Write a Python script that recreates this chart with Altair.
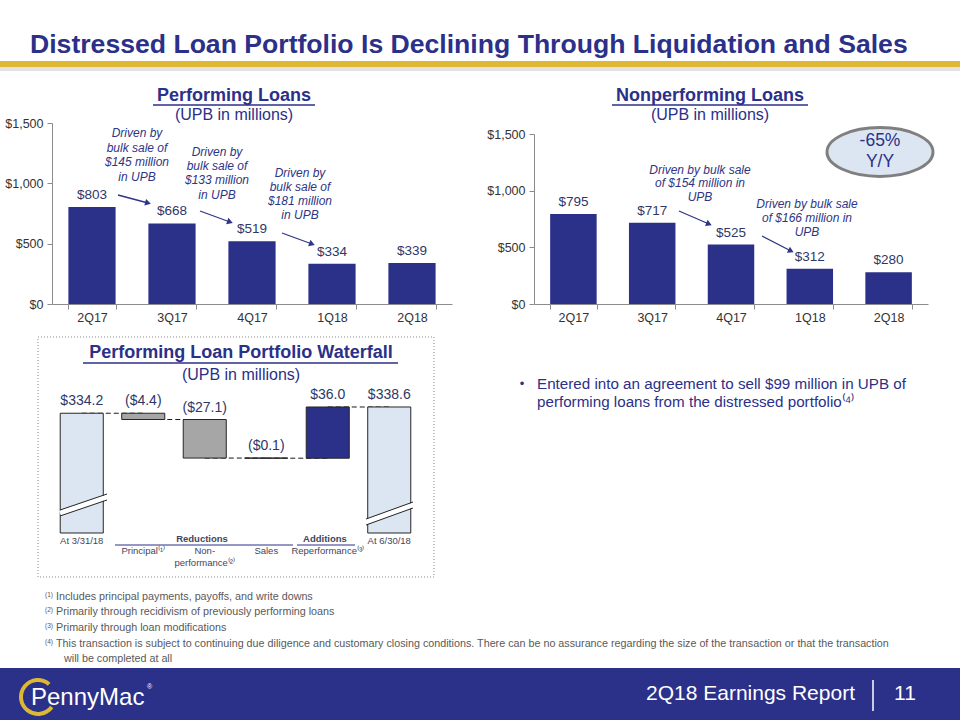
import math
import altair as alt
import pandas as pd

# ------------------------------------------------------------------ data
quarters = ["2Q17", "3Q17", "4Q17", "1Q18", "2Q18"]
performing_upb = [803, 668, 519, 334, 339]
nonperforming_upb = [795, 717, 525, 312, 280]
upb_axis_ticks = [0, 500, 1000, 1500]

wf_categories = ["At 3/31/18", "Principal", "Non-performance", "Sales", "Reperformance", "At 6/30/18"]
wf_values = [334.2, -4.4, -27.1, -0.1, 36.0, 338.6]
wf_kinds = ["total", "reduction", "reduction", "reduction", "addition", "total"]
wf_value_labels = ["$334.2", "($4.4)", "($27.1)", "($0.1)", "$36.0", "$338.6"]
wf_tick_line1 = ["At 3/31/18", "Principal⁽¹⁾", "Non-", "Sales", "Reperformance⁽³⁾", "At 6/30/18"]
wf_tick_line2 = ["", "", "performance⁽²⁾", "", "", ""]

# ------------------------------------------------------------------ styles
W, H = 960, 720
NAVY = "#2B3089"
GOLD = "#DDB834"
LIGHT = "#DCE6F2"
GRAYBAR = "#A6A6A6"
AXIS = "#8C8C8C"
LABEL = "#2F3766"
NOTE = "#595959"
SANS = "Liberation Sans, Arial, Helvetica, sans-serif"
WF_FLOOR = 250  # broken-axis floor of the waterfall


def px_text(rows, **kw):
    df = pd.DataFrame(rows, columns=["x", "y", "t"])
    return alt.Chart(df).mark_text(**kw).encode(
        x=alt.X("x:Q", scale=None, axis=None),
        y=alt.Y("y:Q", scale=None, axis=None),
        text="t:N",
    )


def px_rect(rows, **kw):
    df = pd.DataFrame(rows, columns=["x", "x2", "y", "y2"])
    return alt.Chart(df).mark_rect(**kw).encode(
        x=alt.X("x:Q", scale=None, axis=None), x2="x2:Q",
        y=alt.Y("y:Q", scale=None, axis=None), y2="y2:Q",
    )


def px_rule(rows, **kw):
    df = pd.DataFrame(rows, columns=["x", "y", "x2", "y2"])
    return alt.Chart(df).mark_rule(**kw).encode(
        x=alt.X("x:Q", scale=None, axis=None), x2="x2:Q",
        y=alt.Y("y:Q", scale=None, axis=None), y2="y2:Q",
    )


# ------------------------------------------------------------------ bar panels
def bar_panel(values, x_range, y_range):
    df = pd.DataFrame({"quarter": quarters, "upb": values,
                       "label": ["$" + str(v) for v in values]})
    xs = alt.Scale(domain=quarters, range=x_range, paddingInner=0.41, paddingOuter=0.205)
    ys = alt.Scale(domain=[0, 1500], range=y_range, nice=False, zero=True)
    x = alt.X("quarter:N", sort=quarters, scale=xs, title=None,
              axis=alt.Axis(orient="bottom", offset=y_range[0] - H, tickBand="extent",
                            tickSize=5, labelPadding=2, labelFontSize=12.5, labelFont=SANS,
                            labelColor="#333333", domainColor=AXIS, tickColor=AXIS,
                            labelAngle=0, grid=False))
    y = alt.Y("upb:Q", scale=ys, title=None,
              axis=alt.Axis(orient="left", offset=-x_range[0], values=upb_axis_ticks,
                            labelExpr="'$' + format(datum.value, ',')", grid=False,
                            tickSize=5, labelPadding=4, labelFontSize=12.5, labelFont=SANS,
                            labelColor="#333333", domainColor=AXIS, tickColor=AXIS))
    base = alt.Chart(df).encode(x=x, y=y)
    bars = base.mark_bar(color=NAVY)
    labels = base.mark_text(dy=-12, fontSize=13.5, font=SANS, color=LABEL).encode(text="label:N")
    return alt.layer(bars, labels)


perf = bar_panel(performing_upb, [52, 452], [304, 123])
npl = bar_panel(nonperforming_upb, [534, 928], [304, 134])

# ------------------------------------------------------------------ waterfall
rows = []
level = None
for cat, v, k, lab, t1, t2 in zip(wf_categories, wf_values, wf_kinds, wf_value_labels,
                                  wf_tick_line1, wf_tick_line2):
    if k == "total":
        start, end = WF_FLOOR, v
    else:
        start, end = level, level + v
    level = end
    rows.append(dict(cat=cat, start=start, end=end, kind=k, label=lab,
                     top=max(start, end), t1=t1, t2=t2))
wf_df = pd.DataFrame(rows)

conn = []
for i in range(len(rows) - 1):
    conn.append(dict(cid=i, cat=rows[i]["cat"], level=rows[i]["end"]))
    conn.append(dict(cid=i, cat=rows[i + 1]["cat"], level=rows[i]["end"]))
conn_df = pd.DataFrame(conn)

wf_xs = alt.Scale(domain=wf_categories, range=[51, 420], paddingInner=0.3, paddingOuter=0.15)
wf_ys = alt.Scale(domain=[WF_FLOOR, 340], range=[533, 405], nice=False, zero=False)
wf_x = alt.X("cat:N", sort=wf_categories, scale=wf_xs, title=None,
             axis=alt.Axis(orient="bottom", offset=533 - H, tickBand="extent", labels=False,
                           tickSize=5, domainColor=AXIS, tickColor=AXIS, grid=False))
wf_x_noaxis = alt.X("cat:N", sort=wf_categories, scale=wf_xs, title=None)
wf_y = alt.Y("start:Q", scale=wf_ys, title=None, axis=None)

wf_connectors = alt.Chart(conn_df).mark_line(color="#1A1A1A", strokeWidth=1, strokeDash=[5, 3]).encode(
    x=wf_x_noaxis, y=alt.Y("level:Q", scale=wf_ys, axis=None), detail="cid:N")
wf_bars = alt.Chart(wf_df).mark_bar(stroke="#262626", strokeWidth=1).encode(
    x=wf_x, y=wf_y, y2="end:Q",
    color=alt.Color("kind:N", scale=alt.Scale(domain=["total", "reduction", "addition"],
                                              range=[LIGHT, GRAYBAR, NAVY]), legend=None))
wf_labels = alt.Chart(wf_df).mark_text(dy=-12, fontSize=14, font=SANS, color=LABEL).encode(
    x=wf_x_noaxis, y=alt.Y("top:Q", scale=wf_ys, axis=None), text="label:N")
tick_style = dict(fontSize=9.5, font=SANS, color="#3F4560")
wf_ticks_total = alt.Chart(wf_df).transform_filter("datum.kind == 'total'").mark_text(**tick_style).encode(
    x=wf_x_noaxis, y=alt.value(541), text="t1:N")
wf_ticks_mid = alt.Chart(wf_df).transform_filter("datum.kind != 'total'").mark_text(**tick_style).encode(
    x=wf_x_noaxis, y=alt.value(551), text="t1:N")
wf_ticks_2 = alt.Chart(wf_df).transform_filter("datum.t2 != ''").mark_text(**tick_style).encode(
    x=wf_x_noaxis, y=alt.value(563), text="t2:N")
wf = alt.layer(wf_connectors, wf_bars, wf_labels, wf_ticks_total, wf_ticks_mid, wf_ticks_2)

# ------------------------------------------------------------------ decorations (slide layout)
back = [
    px_rect([(0, W, 66, 71)], color="#E2E2E2"),
    px_rect([(0, W, 61, 67)], color=GOLD),
    px_rect([(0, W, 668, H)], color=NAVY),
    px_rect([(38, 434, 337, 577)], fill="white", stroke="#8C8C8C", strokeWidth=1, strokeDash=[1, 2]),
]

title = px_text([(30, 45, "Distressed Loan Portfolio Is Declining Through Liquidation and Sales")],
                align="left", baseline="middle", font=SANS, fontSize=26.6, fontWeight="bold", color=NAVY)
sec_titles = px_text([(234, 96, "Performing Loans"), (710, 96, "Nonperforming Loans"),
                      (241, 353, "Performing Loan Portfolio Waterfall")],
                     align="center", baseline="middle", font=SANS, fontSize=18, fontWeight="bold", color=NAVY)
sec_sub = px_text([(234, 115, "(UPB in millions)"), (710, 115, "(UPB in millions)"),
                   (241, 375, "(UPB in millions)")],
                  align="center", baseline="middle", font=SANS, fontSize=16, color=NAVY)
underlines = px_rule([(153, 105, 315, 105), (612, 105, 808, 105), (83, 363, 398, 363)],
                     color=NAVY, strokeWidth=1.3)

notes_perf = [
    (137, 133, "Driven by"), (137, 148, "bulk sale of"), (137, 162, "$145 million"), (137, 177, "in UPB"),
    (217, 152, "Driven by"), (217, 166, "bulk sale of"), (217, 180, "$133 million"), (217, 195, "in UPB"),
    (300, 173, "Driven by"), (300, 187, "bulk sale of"), (300, 201, "$181 million"), (300, 215, "in UPB"),
    (700, 170, "Driven by bulk sale"), (700, 183, "of $154 million in"), (700, 197, "UPB"),
    (807, 204, "Driven by bulk sale"), (807, 218, "of $166 million in"), (807, 232, "UPB"),
]
notes = px_text(notes_perf, align="center", baseline="middle", font=SANS, fontSize=12,
                fontStyle="italic", color="#2E3585")

arrows = [(118, 195, 148, 203), (200, 211, 230, 222), (282, 233, 312, 244),
          (679, 211, 709, 224), (762, 236, 791, 251)]
arrow_lines = px_rule(arrows, color="#2E3585", strokeWidth=1.3)
heads_df = pd.DataFrame([dict(x=a[2], y=a[3], ang=math.degrees(math.atan2(a[3] - a[1], a[2] - a[0])))
                         for a in arrows])
arrow_heads = alt.Chart(heads_df).mark_point(shape="triangle-right", size=45, filled=True,
                                             color="#2E3585", opacity=1).encode(
    x=alt.X("x:Q", scale=None, axis=None), y=alt.Y("y:Q", scale=None, axis=None),
    angle=alt.Angle("ang:Q", scale=None))

oval = alt.Chart(pd.DataFrame([dict(x=880, y=152)])).mark_point(
    shape="M -1 0 A 1 0.46 0 1 1 1 0 A 1 0.46 0 1 1 -1 0 Z", size=106 * 106,
    filled=True, fill=LIGHT, stroke="#7F7F7F", strokeWidth=3, opacity=1).encode(
    x=alt.X("x:Q", scale=None, axis=None), y=alt.Y("y:Q", scale=None, axis=None))
oval_text = px_text([(880, 141, "-65%"), (880, 162, "Y/Y")], align="center", baseline="middle",
                    font=SANS, fontSize=17.5, color=NAVY)

breaks_white = px_rule([(60, 513, 107, 497), (366, 522, 413, 505)], color="white", strokeWidth=5)
breaks_dark = px_rule([(60, 510, 107, 494), (60, 516, 107, 500),
                       (366, 519, 413, 502), (366, 525, 413, 508)], color="#262626", strokeWidth=1)

group_heads = px_text([(202, 539, "Reductions"), (325, 539, "Additions")], align="center",
                      baseline="middle", font=SANS, fontSize=9.5, fontWeight="bold", color="#3F4560")
group_lines = px_rule([(115, 545, 293, 545), (297, 545, 355, 545)], color=NAVY, strokeWidth=1)

bullet = px_text([(522, 384, "•")], align="center", baseline="middle", font=SANS, fontSize=13, color=NAVY)
bullet_text = px_text([(537, 384, "Entered into an agreement to sell $99 million in UPB of"),
                       (537, 402, "performing loans from the distressed portfolio⁽⁴⁾")],
                      align="left", baseline="middle", font=SANS, fontSize=15.2, color=NAVY)

fn_marks = px_text([(45, 595, "(1)"), (45, 610, "(2)"), (45, 626, "(3)"), (45, 642, "(4)")],
                   align="left", baseline="middle", font=SANS, fontSize=6.5, color=NOTE)
fn_text = px_text([
    (56, 597, "Includes principal payments, payoffs, and write downs"),
    (56, 612, "Primarily through recidivism of previously performing loans"),
    (56, 628, "Primarily through loan modifications"),
    (56, 644, "This transaction is subject to continuing due diligence and customary closing conditions. "
              "There can be no assurance regarding the size of the transaction or that the transaction"),
    (64, 659, "will be completed at all"),
], align="left", baseline="middle", font=SANS, fontSize=10.75, color=NOTE)

footer_text = px_text([(855, 694, "2Q18 Earnings Report")], align="right", baseline="middle",
                      font=SANS, fontSize=21, color="white")
footer_num = px_text([(905, 694, "11")], align="center", baseline="middle", font=SANS, fontSize=21,
                     color="white")
footer_bar = px_rule([(873, 680, 873, 711)], color="white", strokeWidth=1.5)
logo_ring = alt.Chart(pd.DataFrame([dict(x=38, y=697)])).mark_arc(
    radius=19, radius2=15, theta=2.2, theta2=7.0, color=GOLD).encode(
    x=alt.X("x:Q", scale=None, axis=None), y=alt.Y("y:Q", scale=None, axis=None))
logo_text = px_text([(31, 698, "PennyMac")], align="left", baseline="middle", font=SANS,
                    fontSize=24, color="white")
logo_reg = px_text([(147, 687, "®")], align="left", baseline="middle", font=SANS, fontSize=7,
                   color="white")

front = [title, sec_titles, sec_sub, underlines, notes, arrow_lines, arrow_heads, oval, oval_text,
         breaks_white, breaks_dark, group_heads, group_lines, bullet, bullet_text, fn_marks, fn_text,
         footer_text, footer_num, footer_bar, logo_ring, logo_text, logo_reg]

chart = alt.layer(*back, perf, npl, wf, *front).resolve_scale(
    x="independent", y="independent", color="independent"
).properties(
    width=W, height=H, padding=0, autosize=alt.AutoSizeParams(type="none"), background="white"
).configure_view(stroke=None)

chart.save("out.html", embed_options={"renderer": "svg", "actions": False})
